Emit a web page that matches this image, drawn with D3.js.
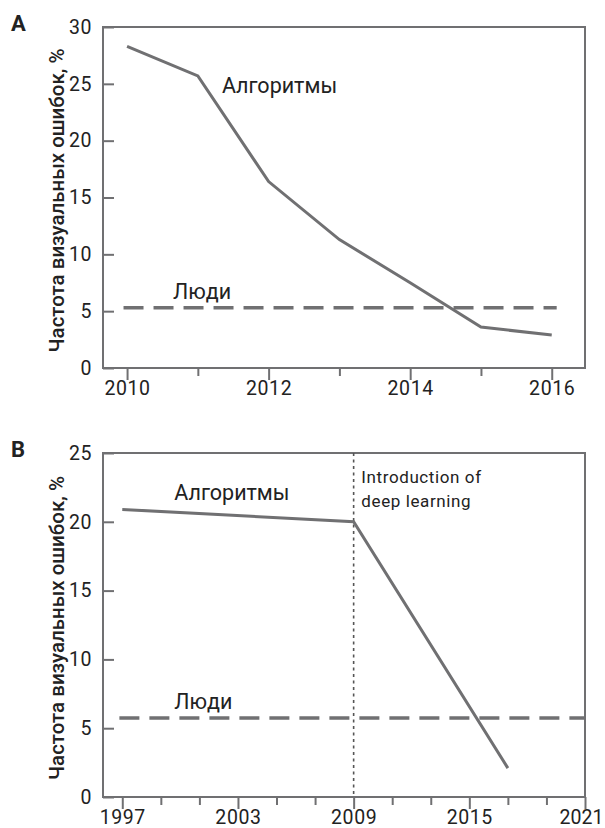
<!DOCTYPE html>
<html>
<head>
<meta charset="utf-8">
<script src="https://cdn.jsdelivr.net/npm/d3@7"></script>
<style>
body{margin:0;background:#fff;}
svg{display:block;}
text{font-family:Roboto,"Noto Sans",sans-serif;fill:#222;}
</style>
</head>
<body>
<svg id="svg" width="605" height="828"></svg>
<script>
// panel A
var yearsA=[2010,2011,2012,2013,2014,2015,2016];
var algoA=[28.3,25.7,16.4,11.3,7.5,3.6,2.9];
var humanA=5.3;
var yTicksA=[0,5,10,15,20,25,30];
var xMajorA=[2010,2012,2014,2016];
var xMinorA=[2011,2013,2015];

// panel B
var yearsB=[1997,2009,2017];
var algoB=[20.9,20.0,2.1];
var humanB=5.75;
var yTicksB=[0,5,10,15,20,25];
var xMajorB=[1997,2003,2009,2015,2021];
var xMinorB=[1999,2001,2005,2007,2011,2013,2017,2019];
var dlYear=2009;

var yLabel="Частота визуальных ошибок, %";
var grey="#707072";

function panel(svg,o){
    var x=d3.scaleLinear().domain(o.xd).range([103,585]);
    var y=d3.scaleLinear().domain(o.yd).range([o.bottom,o.top]);
    var g=svg.append("g");

    g.append("rect").attr("x",103).attr("y",o.top)
    .attr("width",482).attr("height",o.bottom-o.top)
    .style("fill","none").style("stroke",grey).style("stroke-width",2);

    var ya=g.append("g").attr("transform","translate(103,0)")
    .call(d3.axisLeft(y).tickValues(o.yt).tickSize(-11).tickPadding(11).tickFormat(d3.format("d")));
    var xa=g.append("g").attr("transform","translate(0,"+o.bottom+")")
    .call(d3.axisBottom(x).tickValues(o.xmaj).tickSize(12).tickPadding(1).tickFormat(d3.format("d")));
    var xm=g.append("g").attr("transform","translate(0,"+o.bottom+")")
    .call(d3.axisBottom(x).tickValues(o.xmin).tickSize(8).tickFormat(""));
    [ya,xa,xm].forEach(function(a){
        a.select(".domain").remove();
        a.selectAll("line").style("stroke",grey).style("stroke-width",2);
        a.selectAll("text").style("font-size","19.5px").style("fill","#222")
        .style("letter-spacing","0.6px").style("font-family","Roboto, sans-serif");
    });
    // keep the last year label inside the page
    xa.selectAll("text").filter(function(d){return x(d)>570})
    .attr("dx",-4).style("letter-spacing","0px");

    if(o.vline){
        g.append("line").attr("x1",x(o.vline)).attr("x2",x(o.vline))
        .attr("y1",o.top).attr("y2",o.bottom)
        .style("stroke","#555").style("stroke-width",1.6).style("stroke-dasharray","3,3.5");
    }

    g.append("line").attr("x1",x(o.hx[0])).attr("x2",x(o.hx[1]))
    .attr("y1",y(o.human)).attr("y2",y(o.human))
    .style("stroke",grey).style("stroke-width",3.5).style("stroke-dasharray","20,10");

    var line=d3.line().x(function(d){return x(d[0])}).y(function(d){return y(d[1])});
    g.append("path").datum(d3.zip(o.years,o.algo)).attr("d",line)
    .style("fill","none").style("stroke",grey).style("stroke-width",3).style("stroke-linejoin","miter");

    g.append("text").text("Алгоритмы").attr("x",x(o.algoLab[0])).attr("y",y(o.algoLab[1]))
    .attr("font-size","21.5px");
    g.append("text").text("Люди").attr("x",x(o.humLab[0])).attr("y",y(o.humLab[1]))
    .attr("font-size","21.5px");

    g.append("text").text(yLabel).attr("font-size","20.5px").attr("font-weight","500")
    .attr("text-anchor","middle")
    .attr("transform","translate(64,"+((o.top+o.bottom)/2+3)+") rotate(-90)");

    g.append("text").text(o.letter).attr("x",11).attr("y",o.top+4)
    .attr("font-size","22px").attr("font-weight","bold");

    return {x:x,y:y,g:g};
}

function init(){
    var svg=d3.select("#svg");
    panel(svg,{top:27,bottom:368,xd:[2009.66,2016.47],yd:[0,30],yt:yTicksA,
        xmaj:xMajorA,xmin:xMinorA,years:yearsA,algo:algoA,human:humanA,
        hx:[2009.95,2016.07],algoLab:[2011.34,24.2],humLab:[2010.65,6.07],letter:"A"});
    var b=panel(svg,{top:453,bottom:797,xd:[1996,2021],yd:[0,25],yt:yTicksB,
        xmaj:xMajorB,xmin:xMinorB,years:yearsB,algo:algoB,human:humanB,
        hx:[1996.85,2021],algoLab:[1999.7,21.6],humLab:[1999.7,6.4],letter:"B",vline:dlYear});
    b.g.append("text").text("Introduction of").attr("x",b.x(2009.4)).attr("y",b.y(22.8))
    .attr("font-size","17px").attr("letter-spacing","0.6px");
    b.g.append("text").text("deep learning").attr("x",b.x(2009.4)).attr("y",b.y(21.05))
    .attr("font-size","17px").attr("letter-spacing","0.6px");
}
init();
</script>
</body>
</html>
